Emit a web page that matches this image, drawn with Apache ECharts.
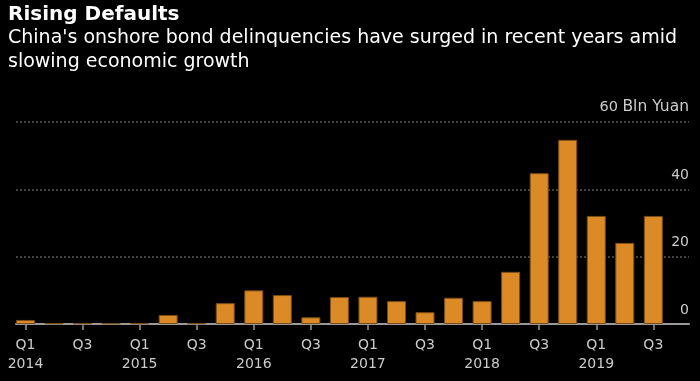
<!DOCTYPE html>
<html>
<head>
<meta charset="utf-8">
<script src="https://cdn.jsdelivr.net/npm/echarts@6/dist/echarts.min.js"></script>
<style>
html,body{margin:0;padding:0;background:#000;}
#c{width:700px;height:381px;}
</style>
</head>
<body>
<div id="c"></div>
<script>
const quarters = ["Q1","Q2","Q3","Q4","Q1","Q2","Q3","Q4","Q1","Q2","Q3","Q4","Q1","Q2","Q3","Q4","Q1","Q2","Q3","Q4","Q1","Q2","Q3"];
const years = ["2014","2014","2014","2014","2015","2015","2015","2015","2016","2016","2016","2016","2017","2017","2017","2017","2018","2018","2018","2018","2019","2019","2019"];
const defaults = [1.2,0.2,0.2,0.2,0.2,2.7,0.2,6.2,10.0,8.6,2.0,8.0,8.1,6.8,3.5,7.8,6.8,15.5,44.8,54.7,32.1,24.1,32.1];
const yTicks = [0,20,40,60];
const yUnit = "Bln Yuan";
const titleText = "Rising Defaults";
const subtitleText = "China's onshore bond delinquencies have surged in recent years amid\nslowing economic growth";

const categories = quarters.map((q,i)=>q+" "+years[i]);
const FONT = "'DejaVu Sans'";
const chart = echarts.init(document.getElementById('c'));
chart.setOption({
  backgroundColor: '#000',
  animation: false,
  title: [{
    text: titleText,
    left: 3, top: 0,
    textStyle: {color:'#fff', fontFamily: FONT, fontWeight:'bold', fontSize: 20}
  },{
    text: subtitleText,
    left: 3, top: 21,
    textStyle: {color:'#fff', fontFamily: FONT, fontWeight:'normal', fontSize: 19, lineHeight: 24}
  }],
  grid: [
    {left: 11.2, width: 656.4, top: 122, bottom: 57},
    {left: 16, right: 11, top: 122, bottom: 57}
  ],
  xAxis: [{
    type: 'category', gridIndex: 0, data: categories,
    axisLine: {show: false},
    axisTick: {show: true, interval: 1, alignWithLabel: true, length: 6, lineStyle: {color:'#999', width: 1.5}},
    axisLabel: {
      interval: 1, margin: 12, color: '#ccc', fontFamily: FONT, fontSize: 14, lineHeight: 19,
      formatter: function(v){ const p = v.split(' '); return p[0]==='Q1' ? p[0]+'\n'+p[1] : p[0]; }
    },
    splitLine: {show:false}
  },{
    type: 'value', gridIndex: 1, min: 0, max: 1,
    axisLine: {show: true, onZero: false, lineStyle: {color:'#999', width: 2}},
    axisTick: {show:false}, axisLabel: {show:false}, splitLine: {show:false}
  }],
  yAxis: [{
    type: 'value', gridIndex: 0, min: 0, max: 60, interval: 20, show: false,
    splitLine: {show:false}
  },{
    type: 'value', gridIndex: 1, min: 0, max: 60, interval: 20, position: 'right',
    axisLine: {show:false}, axisTick: {show:false},
    axisLabel: {
      inside: true, margin: 0, color: '#ccc', fontFamily: FONT, fontSize: 14,
      verticalAlign: 'bottom', padding: [0,0,7,0],
      formatter: function(v){ return v===yTicks[yTicks.length-1] ? '{n|'+v+'} {u|'+yUnit+'}' : String(v); },
      rich: {
        n: {color:'#ccc', fontFamily: FONT, fontSize: 14.5},
        u: {color:'#ccc', fontFamily: FONT, fontSize: 15.5}
      }
    },
    splitLine: {show: true, lineStyle: {color:'#5a5a5a', type: [2,2], width: 1.5}}
  }],
  series: [{
    type: 'bar', xAxisIndex: 0, yAxisIndex: 0, data: defaults, barWidth: 19,
    itemStyle: {color: '#dc8a26', borderColor: '#7a4d18', borderWidth: 1},
    z: 3
  }]
});
</script>
</body>
</html>
